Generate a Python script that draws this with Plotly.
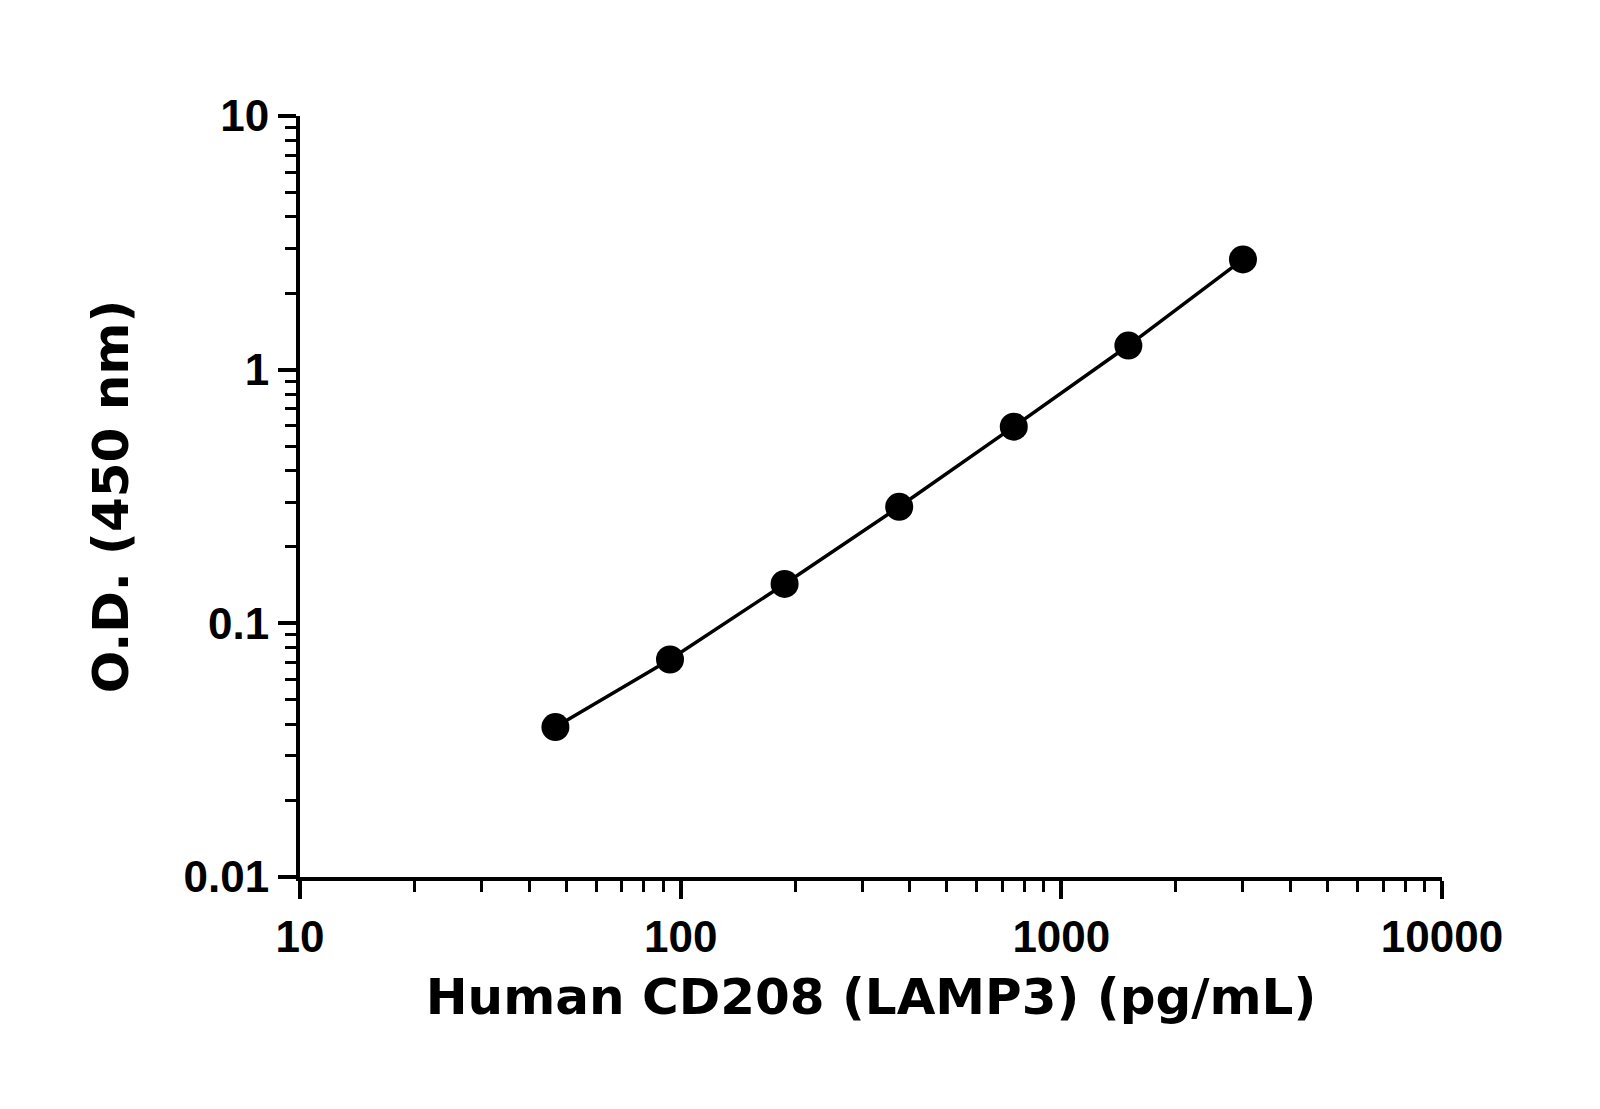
import plotly.graph_objects as go

conc = [46.875, 93.75, 187.5, 375, 750, 1500, 3000]
od = [0.039, 0.072, 0.143, 0.288, 0.596, 1.245, 2.72]
x_ticks = [10, 100, 1000, 10000]
x_labels = ["10", "100", "1000", "10000"]
y_ticks = [0.01, 0.1, 1, 10]
y_labels = ["0.01", "0.1", "1", "10"]

fig = go.Figure(go.Scatter(x=conc, y=od, mode="lines+markers",
    line=dict(color="black", width=3.5),
    marker=dict(color="black", size=28), cliponaxis=False))

tickfont = dict(family="Liberation Sans Narrow, Arial Narrow, sans-serif", size=44, color="black")
titlefont = dict(family="DejaVu Sans, sans-serif", size=50, color="black")
common = dict(showgrid=False, zeroline=False, showline=True, linecolor="black", linewidth=4,
              ticks="outside", ticklen=18, tickwidth=4, tickcolor="black", tickfont=tickfont,
              minor=dict(ticks="outside", ticklen=11, tickwidth=3, tickcolor="black", dtick="D1"))
fig.update_xaxes(type="log", range=[1, 4], tickvals=x_ticks, ticktext=[f"<b>{t}</b>" for t in x_labels],
                 title=dict(text="<b>Human CD208 (LAMP3) (pg/mL)</b>", font=titlefont, standoff=20), **common)
fig.update_yaxes(type="log", range=[-2, 1], tickvals=y_ticks, ticktext=[f"<b>{t}</b>" for t in y_labels],
                 title=dict(text="<b>O.D. (450 nm)</b>", font=titlefont, standoff=40), **common)
fig.update_layout(width=1600, height=1109, plot_bgcolor="white", paper_bgcolor="white",
                  margin=dict(l=292, r=166, t=108, b=240), showlegend=False)
fig.write_html("out.html")
